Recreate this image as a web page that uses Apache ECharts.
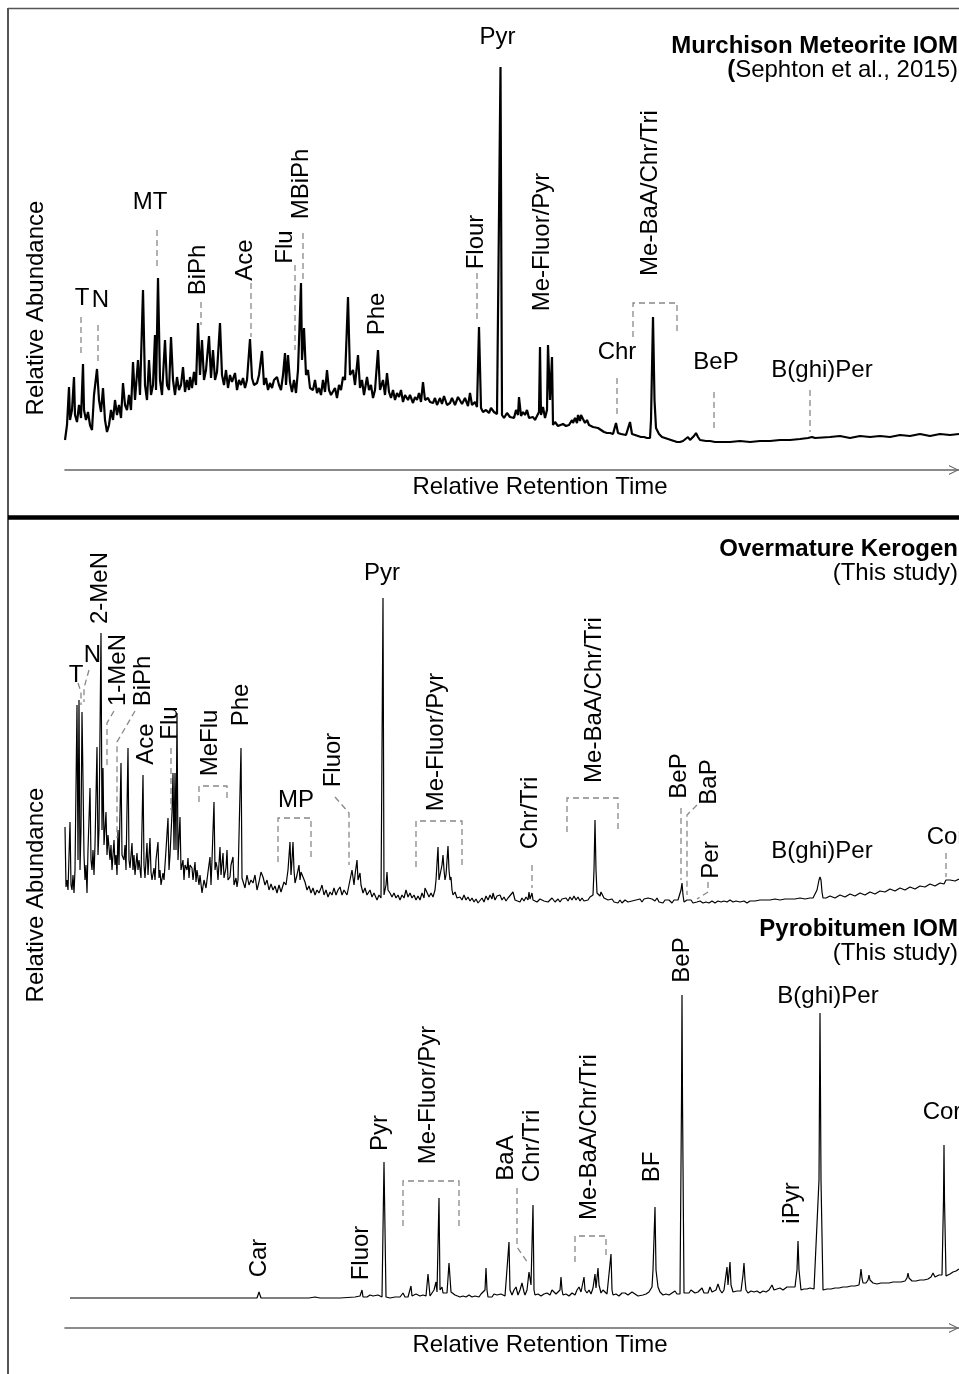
<!DOCTYPE html>
<html>
<head>
<meta charset="utf-8">
<script src="https://cdn.jsdelivr.net/npm/echarts@6/dist/echarts.min.js"></script>
<style>
html,body{margin:0;padding:0;background:#fff;}
#chart{width:959px;height:1374px;}
</style>
</head>
<body>
<div id="chart"></div>
<script>
// ---------- DATA (relative retention time, relative abundance) ----------
const murchisonTrace = [[0,10],[0.2,25],[0.4,63],[0.5,30],[0.7,40],[0.9,73],[1.0,35],[1.2,28],[1.4,45],[1.6,32],[1.8,86],[1.9,40],[2.1,30],[2.3,38],[2.5,25],[2.7,20],[2.9,55],[3.2,81],[3.4,50],[3.6,38],[3.8,62],[4.0,30],[4.2,18],[4.4,25],[4.6,40],[4.8,30],[5.0,50],[5.2,35],[5.4,45],[5.6,32],[5.8,67],[6.0,45],[6.2,40],[6.4,55],[6.6,40],[6.8,88],[7.0,50],[7.3,90],[7.5,55],[7.8,160],[8.0,65],[8.2,50],[8.4,90],[8.6,55],[8.8,65],[9.0,115],[9.1,60],[9.3,172],[9.5,70],[9.7,55],[10.0,110],[10.2,65],[10.4,60],[10.6,113],[10.8,70],[11.0,55],[11.2,73],[11.4,60],[11.6,65],[11.8,83],[12.0,58],[12.2,70],[12.4,60],[12.5,73],[12.7,62],[12.9,78],[13.1,65],[13.3,127],[13.5,75],[13.7,110],[13.9,70],[14.1,80],[14.4,114],[14.6,72],[14.8,100],[15.0,70],[15.2,78],[15.5,127],[15.7,75],[15.9,65],[16.1,80],[16.3,62],[16.5,75],[16.7,68],[17.0,77],[17.2,60],[17.4,70],[17.6,65],[17.8,72],[18.0,62],[18.2,70],[18.5,111],[18.7,72],[18.9,65],[19.2,67],[19.4,75],[19.7,99],[19.9,65],[20.1,72],[20.3,60],[20.5,67],[20.7,62],[20.9,70],[21.2,73],[21.4,65],[21.6,60],[21.8,75],[22.0,97],[22.1,65],[22.3,95],[22.5,68],[22.7,58],[22.9,70],[23.1,57],[23.3,80],[23.6,167],[23.7,90],[23.9,122],[24.1,75],[24.3,80],[24.5,62],[24.8,60],[25.0,70],[25.2,57],[25.4,62],[25.6,55],[25.8,70],[26.0,58],[26.2,80],[26.4,60],[26.6,55],[26.8,57],[27.0,62],[27.2,52],[27.4,65],[27.6,60],[27.8,73],[28.0,70],[28.3,153],[28.5,75],[28.8,80],[29.0,65],[29.3,95],[29.5,62],[29.7,70],[29.9,55],[30.2,73],[30.4,60],[30.6,65],[30.8,52],[31.0,60],[31.3,100],[31.5,60],[31.8,70],[32.0,55],[32.2,77],[32.4,58],[32.6,52],[32.8,60],[33.0,50],[33.2,57],[33.4,53],[33.6,60],[33.8,48],[34.0,55],[34.3,50],[34.5,55],[34.8,47],[35.0,53],[35.2,50],[35.4,57],[35.6,48],[35.8,68],[36.0,50],[36.3,52],[36.5,48],[36.8,47],[37.0,52],[37.2,45],[37.5,52],[37.7,46],[37.9,54],[38.2,45],[38.5,47],[38.7,52],[39.0,45],[39.3,53],[39.5,53],[39.7,46],[40.0,52],[40.3,44],[40.5,57],[40.7,45],[41.0,48],[41.2,43],[41.4,123],[41.6,42],[41.8,38],[42.1,40],[42.4,37],[42.6,42],[42.9,38],[43.2,36],[43.4,35],[43.55,383],[43.7,35],[43.9,32],[44.2,37],[44.5,33],[44.7,35],[44.9,32],[45.1,40],[45.3,35],[45.4,53],[45.6,34],[45.8,38],[46.0,35],[46.2,40],[46.4,32],[46.6,31],[46.8,33],[47.0,30],[47.2,32],[47.4,38],[47.5,103],[47.6,35],[47.8,43],[48.0,32],[48.2,40],[48.3,105],[48.5,50],[48.7,93],[48.8,25],[49.0,28],[49.3,24],[49.5,23],[49.8,26],[50.1,24],[50.4,25],[50.7,30],[50.8,27],[51.0,32],[51.2,27],[51.3,35],[51.5,29],[51.6,35],[51.8,33],[52.0,27],[52.2,30],[52.4,25],[52.6,27],[52.8,23],[53.0,23],[53.3,22],[53.6,20],[53.9,18],[54.2,17],[54.5,17],[54.8,16],[55.1,27],[55.3,17],[55.6,16],[55.8,15],[56.1,15],[56.3,17],[56.5,28],[56.7,16],[57.0,15],[57.3,14],[57.6,13],[57.9,13],[58.2,12],[58.5,12],[58.6,30],[58.8,133],[58.95,50],[59.1,22],[59.2,20],[59.4,16],[59.7,13],[60.0,12],[60.3,11],[60.6,10],[60.9,9],[61.2,8],[61.5,8],[61.8,9],[62.0,10],[62.3,13],[62.5,10],[62.7,10],[62.9,14],[63.1,17],[63.3,13],[63.5,10],[63.7,10],[64.1,9],[64.5,9],[65.0,8],[65.5,8],[66.0,8],[66.5,8],[67.5,9],[68.5,8],[69.5,9],[70.5,9],[71.5,10],[72.5,10],[73.5,11],[74.3,12],[74.5,14],[74.7,13],[75.0,12],[76.5,13],[77.5,14],[78.5,12],[79.5,14],[80.5,13],[81.5,14],[82.5,13],[83.5,15],[84.5,14],[85.5,16],[86.5,14],[87.5,16],[88.5,15],[89.4,16]];

const kerogenTrace = [[0,83],[0.1,23],[0.2,30],[0.3,20],[0.5,88],[0.6,25],[0.7,20],[0.8,35],[0.9,17],[1.0,40],[1.2,205],[1.3,50],[1.4,210],[1.5,40],[1.6,80],[1.7,198],[1.8,130],[1.9,55],[2.0,30],[2.1,45],[2.2,17],[2.3,60],[2.5,122],[2.6,50],[2.7,40],[2.8,60],[2.9,35],[3.0,65],[3.2,163],[3.3,55],[3.4,80],[3.6,277],[3.7,80],[3.8,142],[3.9,65],[4.1,98],[4.2,55],[4.3,75],[4.5,50],[4.6,65],[4.7,40],[4.9,70],[5.0,45],[5.1,55],[5.2,35],[5.3,80],[5.4,45],[5.6,147],[5.7,55],[5.9,50],[6.0,65],[6.1,40],[6.3,162],[6.4,50],[6.5,42],[6.7,67],[6.8,40],[6.9,55],[7.0,35],[7.2,57],[7.3,40],[7.4,50],[7.6,32],[7.8,135],[7.9,45],[8.0,32],[8.2,67],[8.3,35],[8.5,72],[8.6,38],[8.7,30],[8.9,42],[9.0,30],[9.1,50],[9.3,68],[9.4,32],[9.5,40],[9.6,25],[9.8,37],[9.9,30],[10.1,60],[10.3,92],[10.4,40],[10.5,55],[10.7,97],[10.8,137],[10.9,60],[11.0,137],[11.1,60],[11.2,197],[11.3,50],[11.5,93],[11.6,40],[11.8,50],[11.9,30],[12.0,45],[12.2,40],[12.3,52],[12.4,32],[12.5,45],[12.7,42],[12.8,30],[13.0,48],[13.1,28],[13.2,40],[13.4,25],[13.5,35],[13.7,17],[13.9,30],[14.1,22],[14.3,38],[14.5,53],[14.6,25],[14.7,50],[14.9,108],[15.0,40],[15.1,48],[15.2,43],[15.3,30],[15.5,63],[15.6,35],[15.8,57],[15.9,32],[16.1,42],[16.2,60],[16.3,30],[16.5,33],[16.6,45],[16.8,53],[16.9,25],[17.1,32],[17.2,23],[17.3,30],[17.6,162],[17.7,32],[17.8,30],[18.0,22],[18.2,35],[18.4,25],[18.6,30],[18.8,27],[19.0,35],[19.2,20],[19.4,28],[19.6,38],[19.8,33],[20.0,25],[20.2,30],[20.4,20],[20.6,26],[20.8,20],[21.0,24],[21.2,17],[21.4,25],[21.6,18],[21.7,17],[21.9,28],[22.1,25],[22.3,40],[22.5,68],[22.6,35],[22.7,50],[22.8,68],[22.9,40],[23.0,27],[23.2,35],[23.4,45],[23.5,30],[23.6,38],[23.8,40],[24.0,28],[24.2,20],[24.4,24],[24.6,17],[24.8,22],[25.0,15],[25.2,20],[25.4,17],[25.6,22],[25.7,25],[25.9,15],[26.1,20],[26.3,13],[26.5,18],[26.7,15],[26.9,22],[27.1,15],[27.3,20],[27.5,23],[27.7,15],[27.9,20],[28.2,15],[28.4,25],[28.5,30],[28.7,40],[28.9,25],[29.0,35],[29.2,50],[29.3,30],[29.5,37],[29.6,25],[29.8,17],[30.0,22],[30.2,15],[30.5,20],[30.7,13],[30.9,17],[31.2,10],[31.4,15],[31.6,12],[31.8,312],[31.9,15],[32.1,25],[32.2,38],[32.3,20],[32.5,17],[32.7,13],[32.9,17],[33.1,12],[33.3,15],[33.5,10],[33.7,15],[33.9,12],[34.1,20],[34.3,13],[34.5,17],[34.7,12],[34.9,15],[35.1,10],[35.3,14],[35.5,10],[35.7,17],[35.9,12],[36.0,22],[36.2,20],[36.4,13],[36.6,17],[36.8,13],[37.0,20],[37.1,30],[37.3,63],[37.4,30],[37.5,35],[37.6,33],[37.7,45],[37.8,55],[37.9,40],[38.0,30],[38.1,35],[38.3,64],[38.4,40],[38.5,30],[38.6,33],[38.7,20],[38.8,15],[39.0,18],[39.2,12],[39.5,13],[39.7,10],[39.9,15],[40.1,10],[40.3,13],[40.5,9],[40.7,12],[40.9,8],[41.1,11],[41.3,7],[41.5,8],[41.7,12],[41.9,8],[42.1,14],[42.3,10],[42.5,15],[42.7,11],[42.8,17],[43.0,10],[43.2,14],[43.5,15],[43.7,10],[43.9,13],[44.1,9],[44.3,12],[44.5,10],[44.8,18],[45.0,10],[45.2,12],[45.5,8],[45.7,12],[45.9,9],[46.1,13],[46.3,10],[46.4,18],[46.5,11],[46.6,14],[46.7,17],[46.8,10],[47.0,12],[47.2,8],[47.5,11],[47.7,13],[47.9,9],[48.1,11],[48.3,8],[48.5,10],[48.7,12],[49.0,8],[49.3,11],[49.5,8],[49.7,11],[49.9,9],[50.1,12],[50.3,9],[50.5,13],[50.7,10],[50.9,14],[51.1,10],[51.3,13],[51.5,9],[51.7,12],[51.9,9],[52.1,11],[52.3,10],[52.5,13],[52.7,11],[52.8,15],[52.9,40],[53.0,90],[53.1,40],[53.2,17],[53.3,17],[53.5,14],[53.6,18],[53.7,18],[53.9,12],[54.1,14],[54.3,10],[54.5,8],[54.7,11],[54.9,8],[55.1,10],[55.3,7],[55.5,10],[55.7,7],[56.0,10],[56.3,8],[56.5,7],[56.7,9],[56.9,7],[57.1,10],[57.3,8],[57.5,11],[57.7,8],[57.9,11],[58.1,9],[58.3,12],[58.5,14],[58.7,11],[58.8,12],[59.0,9],[59.2,12],[59.4,8],[59.6,10],[59.8,7],[60.0,10],[60.2,8],[60.4,10],[60.7,7],[60.9,10],[61.1,8],[61.3,10],[61.5,9],[61.6,20],[61.7,27],[61.8,15],[61.9,8],[62.1,10],[62.2,10],[62.4,8],[62.6,10],[62.8,7],[63.0,9],[63.2,8],[63.5,9],[63.8,7],[64.1,8],[64.4,7],[64.7,9],[65.0,7],[65.3,9],[65.6,8],[65.9,9],[66.2,8],[66.5,10],[66.8,8],[67.1,9],[67.5,8],[67.9,9],[68.2,7],[68.5,9],[69.0,9],[69.5,10],[70.0,10],[70.5,10],[71.0,11],[71.5,10],[72.0,11],[72.5,11],[73.0,11],[73.5,12],[74.0,11],[74.5,12],[74.8,12],[75.0,14],[75.2,20],[75.4,30],[75.5,33],[75.6,30],[75.7,18],[75.8,12],[76.1,12],[76.5,14],[77.0,12],[77.5,15],[78.0,13],[78.5,16],[79.0,14],[79.5,17],[80.0,15],[80.5,18],[81.0,16],[81.5,19],[82.0,18],[82.5,21],[83.0,19],[83.5,22],[84.0,20],[84.5,23],[85.0,21],[85.5,24],[86.0,23],[86.5,26],[87.0,24],[87.5,27],[87.9,26],[88.1,30],[88.3,28],[88.5,30],[89.0,29],[89.4,31]];

const pyrobitumenTrace = [[0.5,12],[3.5,12],[6.5,12],[9.5,12],[12.5,12],[15.5,12],[18.5,12],[19.2,12],[19.4,18],[19.6,12],[21.5,12],[22.8,12],[22.9,14],[23.0,12],[24.0,12],[24.2,14],[24.4,12],[25.0,13],[25.5,12],[25.7,14],[25.9,12],[27.5,12],[29.0,13],[29.5,14],[29.7,20],[29.8,13],[30.2,13],[30.5,15],[30.8,14],[31.0,13],[31.3,15],[31.5,13],[31.7,13],[31.9,148],[32.1,13],[32.5,12],[33.0,13],[33.5,13],[33.8,17],[34.0,13],[34.3,13],[34.6,24],[34.7,14],[34.9,13],[35.1,16],[35.3,17],[35.5,14],[35.8,15],[36.1,14],[36.3,36],[36.5,14],[36.7,13],[36.9,20],[37.1,28],[37.2,18],[37.3,20],[37.4,112],[37.5,20],[37.7,23],[37.8,17],[38.0,18],[38.2,17],[38.4,47],[38.6,18],[38.8,17],[39.0,15],[39.2,14],[39.5,13],[39.8,14],[40.1,13],[40.4,15],[40.7,13],[41.0,14],[41.2,15],[41.4,13],[41.6,16],[41.8,14],[42.0,20],[42.1,42],[42.2,20],[42.3,13],[42.5,15],[42.7,13],[42.9,16],[43.2,15],[43.4,13],[43.6,16],[43.8,17],[44.0,14],[44.2,16],[44.4,68],[44.5,20],[44.7,15],[44.9,20],[45.1,23],[45.3,15],[45.5,20],[45.7,27],[45.9,18],[46.0,15],[46.2,20],[46.4,38],[46.6,25],[46.8,105],[46.9,20],[47.0,15],[47.3,16],[47.6,14],[47.9,16],[48.2,17],[48.5,15],[48.7,20],[48.9,22],[49.1,16],[49.3,18],[49.5,20],[49.6,33],[49.7,20],[49.8,15],[50.1,16],[50.4,14],[50.7,17],[51.0,15],[51.2,20],[51.4,23],[51.6,18],[51.7,20],[51.9,33],[52.0,20],[52.2,17],[52.4,20],[52.6,16],[52.8,22],[53.0,36],[53.1,22],[53.3,42],[53.4,25],[53.6,17],[53.8,20],[54.0,22],[54.2,16],[54.4,18],[54.6,56],[54.7,20],[54.8,15],[55.1,16],[55.4,14],[55.7,17],[56.0,17],[56.3,15],[56.7,18],[57.0,16],[57.3,14],[57.5,16],[57.8,15],[58.1,16],[58.4,18],[58.7,23],[58.8,40],[59.0,103],[59.1,40],[59.3,23],[59.5,18],[59.8,15],[60.1,16],[60.4,15],[60.7,17],[61.0,19],[61.2,16],[61.5,16],[61.65,210],[61.7,315],[61.75,210],[61.9,17],[62.1,16],[62.4,17],[62.6,20],[62.8,22],[63.0,17],[63.3,18],[63.5,17],[63.7,22],[63.9,17],[64.1,19],[64.3,17],[64.5,23],[64.7,18],[64.9,19],[65.1,20],[65.3,26],[65.5,20],[65.7,17],[65.9,20],[66.2,43],[66.3,25],[66.5,48],[66.6,25],[66.8,18],[67.0,20],[67.2,19],[67.4,20],[67.6,19],[67.8,35],[67.9,47],[68.0,30],[68.1,20],[68.3,17],[68.6,19],[68.9,18],[69.2,19],[69.5,17],[69.8,19],[70.1,18],[70.4,20],[70.7,25],[70.9,20],[71.2,21],[71.5,22],[71.8,20],[72.0,22],[72.2,23],[72.4,21],[72.6,23],[72.8,21],[73.0,23],[73.2,40],[73.3,69],[73.4,40],[73.6,20],[73.9,21],[74.2,21],[74.5,22],[74.7,23],[74.9,21],[75.1,20],[75.4,130],[75.5,297],[75.6,130],[75.8,20],[76.2,21],[76.6,21],[77.0,22],[77.4,22],[77.8,23],[78.2,23],[78.6,24],[79.0,24],[79.4,25],[79.5,32],[79.6,41],[79.7,32],[79.8,27],[80.1,27],[80.3,30],[80.4,35],[80.5,30],[80.8,27],[81.2,26],[81.6,27],[82.0,27],[82.4,27],[82.8,28],[83.2,28],[83.6,28],[84.0,29],[84.2,32],[84.3,37],[84.4,32],[84.7,29],[85.1,29],[85.5,30],[85.9,30],[86.3,31],[86.6,33],[86.8,37],[87.0,33],[87.2,33],[87.4,35],[87.6,34],[87.7,35],[87.85,110],[87.9,165],[87.95,110],[88.1,34],[88.3,35],[88.5,36],[88.8,38],[89.1,39],[89.4,41]];

// peak labels: [name, retention, abundance, vertical]
const murchisonLabels = [['T',1.7,152,0],['N',3.55,150,0],['MT',8.5,248,0],['BiPh',13.3,180,1],['Ace',18.0,190,1],['Flu',22.0,203,1],['MBiPh',23.6,266,1],['Phe',31.2,136,1],['Flour',41.1,208,1],['Pyr',43.25,413,0],['Me-Fluor/Pyr',47.7,208,1],['Me-BaA/Chr/Tri',58.5,257,1],['Chr',55.2,98,0],['BeP',65.1,88,0],['B(ghi)Per',75.7,80,0]];
const kerogenLabels = [['T',1.1,235,0],['N',2.75,255,0],['2-MeN',3.5,322,1],['1-MeN',5.3,240,1],['BiPh',7.8,229,1],['Ace',8.1,166,1],['Flu',10.5,187,1],['MeFlu',14.5,167,1],['Phe',17.6,205,1],['MP',23.1,110,0],['Fluor',26.8,150,1],['Pyr',31.7,337,0],['Me-Fluor/Pyr',37.1,168,1],['Chr/Tri',46.5,97,1],['Me-BaA/Chr/Tri',52.9,210,1],['BeP',61.4,134,1],['BaP',64.4,128,1],['Per',64.6,50,1],['B(ghi)Per',75.7,59,0],['Cor',88.1,73,0]];
const pyrobitumenLabels = [['Car',19.4,52,1],['Fluor',29.6,57,1],['Pyr',31.5,177,1],['Me-Fluor/Pyr',36.3,215,1],['BaA',44.1,152,1],['Chr/Tri',46.7,164,1],['Me-BaA/Chr/Tri',52.4,173,1],['BF',58.7,143,1],['BeP',61.7,350,1],['B(ghi)Per',76.3,314,0],['iPyr',72.7,107,1],['Cor',87.7,198,0]];

// dashed leader lines (retention, abundance) polylines
const murchisonLeaders = [[[1.6,133],[1.6,93]],[[3.3,125],[3.3,85]],[[9.2,220],[9.2,183]],[[13.6,148],[13.6,125]],[[18.6,167],[18.6,113]],[[23.0,185],[23.0,100]],[[23.8,217],[23.8,170]],[[41.2,177],[41.2,127]],[[55.2,72],[55.2,33]],[[64.9,58],[64.9,18]],[[74.5,60],[74.5,18]]];
const kerogenLeaders = [[[1.3,227],[1.6,218],[1.6,205]],[[2.4,240],[1.9,222],[1.9,208]],[[4.9,199],[4.2,187],[4.2,142]],[[7.0,199],[5.2,168],[5.2,72]],[[10.6,162],[10.6,100]],[[27.0,113],[28.4,97],[28.4,45]],[[46.7,45],[46.7,22]],[[61.6,102],[61.6,30]],[[63.2,105],[62.2,95],[62.2,15]],[[64.3,28],[64.3,18],[63.2,11]],[[88.1,57],[88.1,33]]];
const pyrobitumenLeaders = [[[45.2,122],[45.2,63],[46.3,47]]];

// dashed group brackets: [start, end, top, bottomLeft, bottomRight]
const murchisonBrackets = [[56.8,61.2,147,113,115]];
const kerogenBrackets = [[13.4,16.2,124,108,108],[21.3,24.6,92,48,50],[35.1,39.7,89,43,43],[50.2,55.3,112,78,78]];
const pyrobitumenBrackets = [[33.8,39.4,129,84,84],[51.0,54.1,74,48,53]];

const panelTitles = ['Murchison Meteorite IOM','Overmature Kerogen','Pyrobitumen IOM'];
const panelSources = ['{b|(}Sephton et al., 2015)','(This study)','(This study)'];

// ---------- CHART ----------
const FONT = "'Liberation Sans', Arial, Helvetica, sans-serif";
const chart = echarts.init(document.getElementById('chart'), null, {renderer:'canvas'});

const grids = [
  {left:65, right:0, top:20, height:430},
  {left:65, right:0, top:540, height:370},
  {left:65, right:0, top:930, height:380}
];
const chevron = 'path://M0,14 L7,0 L14,14 L12.4,14 L7,3 L1.6,14 Z';
function xAxisFor(i, showAxis, offset){
  return {gridIndex:i, type:'value', min:0, max:89.4, show:showAxis, position:'bottom', offset:offset,
    axisLine:{show:true, onZero:false, symbol:['none', chevron], symbolSize:[15,10], symbolOffset:[0,-5], lineStyle:{color:'#666', width:1.6}},
    axisTick:{show:false}, axisLabel:{show:false}, splitLine:{show:false},
    name:'Relative Retention Time', nameLocation:'middle', nameGap:5,
    nameTextStyle:{fontSize:24, fontFamily:FONT, color:'#000', verticalAlign:'top', padding:[0,0,0,56]}};
}
function yAxisFor(i){
  return {gridIndex:i, type:'value', min:0, max:grids[i].height, show:false};
}
function traceSeries(data, i, w){
  return {type:'line', xAxisIndex:i, yAxisIndex:i, data:data, showSymbol:false, symbol:'none', silent:true,
    lineStyle:{color:'#000', width:w}, sampling:null, z:3};
}
function labelSeries(labels, i){
  return {type:'scatter', xAxisIndex:i, yAxisIndex:i, symbolSize:0, clip:false, silent:true, z:5,
    itemStyle:{color:'transparent', opacity:1},
    label:{show:true, position:'inside', formatter:'{b}', fontSize:24, fontFamily:FONT, color:'#000', textBorderWidth:0, opacity:1},
    data: labels.map(l => ({name:l[0], value:[l[1], l[2]], label:{rotate: l[3] ? 90 : 0}}))};
}
function dashedSeries(leaders, brackets, i){
  const polys = leaders.slice();
  brackets.forEach(b => polys.push([[b[0],b[3]],[b[0],b[2]],[b[1],b[2]],[b[1],b[4]]]));
  return {type:'lines', coordinateSystem:'cartesian2d', xAxisIndex:i, yAxisIndex:i, polyline:true, silent:true, z:4,
    lineStyle:{color:'#888', width:1.3, type:[6,4], opacity:1},
    data: polys.map(c => ({coords:c}))};
}

const graphic = [
  {type:'line', shape:{x1:8,y1:8.5,x2:959,y2:8.5}, style:{stroke:'#555', lineWidth:1.5}},
  {type:'line', shape:{x1:8,y1:8,x2:8,y2:1374}, style:{stroke:'#555', lineWidth:2}},
  {type:'line', shape:{x1:8,y1:517.5,x2:959,y2:517.5}, style:{stroke:'#000', lineWidth:4.5}},
  {type:'text', x:36, y:308, rotation:Math.PI/2, style:{text:'Relative Abundance', align:'center', verticalAlign:'middle', fontSize:24, fontFamily:FONT, fill:'#000'}},
  {type:'text', x:36, y:895, rotation:Math.PI/2, style:{text:'Relative Abundance', align:'center', verticalAlign:'middle', fontSize:24, fontFamily:FONT, fill:'#000'}}
];
const titleY = [[46,70],[549,573],[929,953]];
panelTitles.forEach((t, i) => {
  graphic.push({type:'text', x:958, y:titleY[i][0], style:{text:t, align:'right', verticalAlign:'middle', fontSize:24, fontWeight:'bold', fontFamily:FONT, fill:'#000'}});
  graphic.push({type:'text', x:958, y:titleY[i][1], style:{text:panelSources[i], align:'right', verticalAlign:'middle', fontSize:24, fontFamily:FONT, fill:'#000',
    rich:{b:{fontWeight:'bold', fontSize:24, fontFamily:FONT, fill:'#000'}}}});
});

chart.setOption({
  animation:false,
  backgroundColor:'#fff',
  textStyle:{fontFamily:FONT},
  grid: grids,
  xAxis: [xAxisFor(0,true,20), xAxisFor(1,false,0), xAxisFor(2,true,18)],
  yAxis: [yAxisFor(0), yAxisFor(1), yAxisFor(2)],
  graphic: graphic,
  series: [
    traceSeries(murchisonTrace,0,2.2),
    traceSeries(kerogenTrace,1,1.2),
    traceSeries(pyrobitumenTrace,2,1.2),
    dashedSeries(murchisonLeaders, murchisonBrackets, 0),
    dashedSeries(kerogenLeaders, kerogenBrackets, 1),
    dashedSeries(pyrobitumenLeaders, pyrobitumenBrackets, 2),
    labelSeries(murchisonLabels,0),
    labelSeries(kerogenLabels,1),
    labelSeries(pyrobitumenLabels,2)
  ]
});
</script>
</body>
</html>
